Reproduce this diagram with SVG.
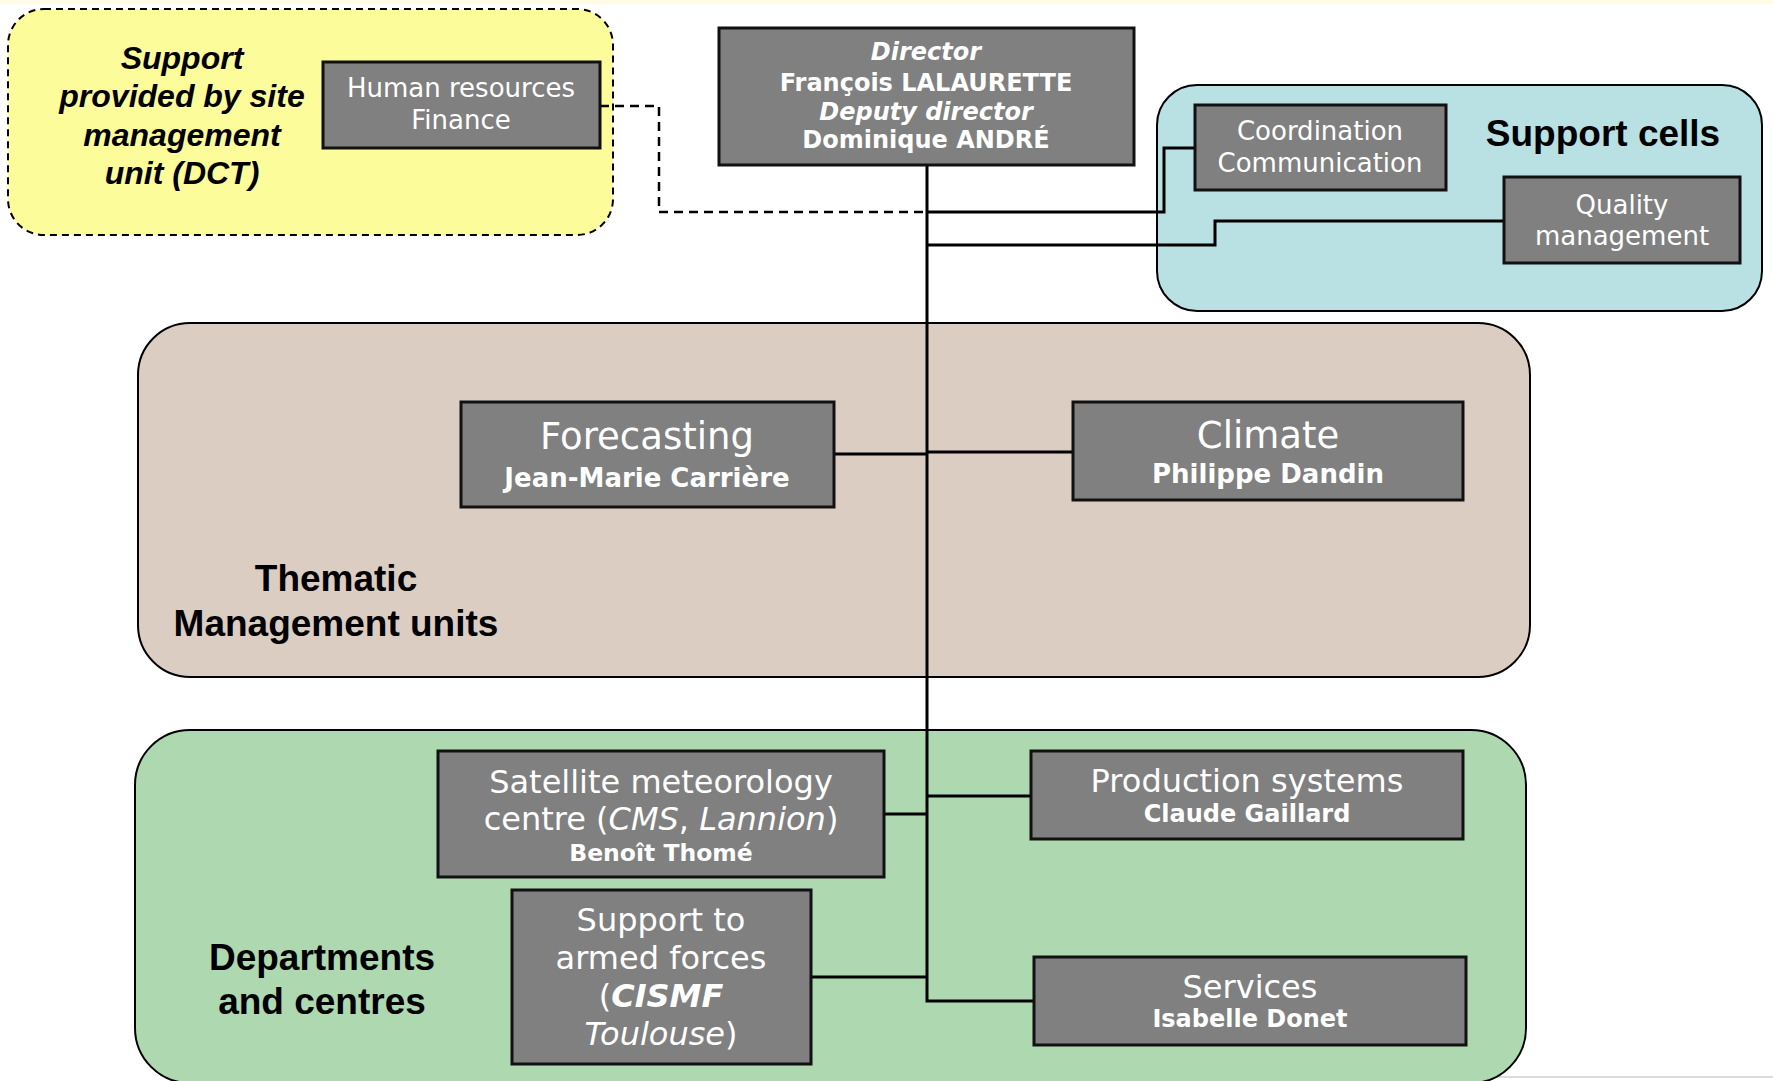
<svg xmlns="http://www.w3.org/2000/svg" width="1773" height="1081" viewBox="0 0 1773 1081">
<style>
.grp{stroke:#000;stroke-width:2}
.box{fill:#808080;stroke:#111;stroke-width:3}
.t{font-family:"DejaVu Sans",Verdana,sans-serif;fill:#fff;text-anchor:middle}
.b{font-weight:bold}
.i{font-style:italic}
.lbl{font-family:"Liberation Sans",Arial,sans-serif;font-weight:bold;fill:#000;text-anchor:middle;font-size:37px}
.c{fill:none;stroke:#000;stroke-width:3}
</style>
<rect x="0" y="0" width="1773" height="1081" fill="#fff"/>
<rect x="0" y="0" width="1773" height="4" fill="#fffbe6"/>
<line x1="1490" y1="1077" x2="1773" y2="1077" stroke="#dcdcdc" stroke-width="2"/>

<g id="group-dct">
<rect x="8" y="9" width="605" height="226" rx="36" ry="36" fill="#fdfc9a" stroke="#000" stroke-width="2" stroke-dasharray="7,5"/>
<text class="lbl i" style="font-size:32px"><tspan x="182" y="69">Support</tspan><tspan x="182" y="107">provided by site</tspan><tspan x="182" y="146">management</tspan><tspan x="182" y="184">unit (DCT)</tspan></text>
</g>
<g id="group-support-cells">
<rect x="1157" y="85" width="605" height="226" rx="40" ry="40" fill="#b9e0e3" class="grp"/>
<text class="lbl" x="1603" y="146">Support cells</text>
</g>
<g id="group-thematic">
<rect x="138" y="323" width="1392" height="354" rx="52" ry="52" fill="#dbcdc2" class="grp"/>
<text class="lbl"><tspan x="336" y="591">Thematic</tspan><tspan x="336" y="636">Management units</tspan></text>
</g>
<g id="group-departments">
<rect x="135" y="730" width="1391" height="353" rx="55" ry="55" fill="#aed8b0" class="grp"/>
<text class="lbl"><tspan x="322" y="970">Departments</tspan><tspan x="322" y="1014">and centres</tspan></text>
</g>

<g id="connectors">
<polyline class="c" points="927,165 927,1001 1034,1001"/>
<polyline class="c" points="600,106 659,106 659,212 927,212" stroke-dasharray="9,6" style="stroke-width:2.5"/>
<polyline class="c" points="927,212 1164,212 1164,148 1195,148"/>
<polyline class="c" points="927,245 1215,245 1215,221 1504,221"/>
<line class="c" x1="834" y1="454" x2="927" y2="454"/>
<line class="c" x1="927" y1="452" x2="1073" y2="452"/>
<line class="c" x1="884" y1="814" x2="927" y2="814"/>
<line class="c" x1="927" y1="796" x2="1031" y2="796"/>
<line class="c" x1="811" y1="977" x2="927" y2="977"/>
</g>

<g id="node-hr">
<rect class="box" x="323" y="62" width="277" height="86"/>
<text class="t" font-size="26"><tspan x="461" y="97">Human resources</tspan><tspan x="461" y="129">Finance</tspan></text>
</g>
<g id="node-director">
<rect class="box" x="719" y="28" width="415" height="137"/>
<text class="t b" font-size="24"><tspan class="i" x="926" y="60">Director</tspan><tspan x="926" y="91">François LALAURETTE</tspan><tspan class="i" x="926" y="120">Deputy director</tspan><tspan x="926" y="148">Dominique ANDRÉ</tspan></text>
</g>
<g id="node-coordination">
<rect class="box" x="1195" y="105" width="251" height="85"/>
<text class="t" font-size="26"><tspan x="1320" y="140">Coordination</tspan><tspan x="1320" y="172">Communication</tspan></text>
</g>
<g id="node-quality">
<rect class="box" x="1504" y="177" width="236" height="86"/>
<text class="t" font-size="26"><tspan x="1622" y="214">Quality</tspan><tspan x="1622" y="245">management</tspan></text>
</g>
<g id="node-forecasting">
<rect class="box" x="461" y="402" width="373" height="105"/>
<text class="t" x="647" y="449" font-size="37">Forecasting</text>
<text class="t b" x="647" y="487" font-size="26">Jean-Marie Carrière</text>
</g>
<g id="node-climate">
<rect class="box" x="1073" y="402" width="390" height="98"/>
<text class="t" x="1268" y="448" font-size="37">Climate</text>
<text class="t b" x="1268" y="483" font-size="26">Philippe Dandin</text>
</g>
<g id="node-satellite">
<rect class="box" x="438" y="751" width="446" height="126"/>
<text class="t" font-size="32"><tspan x="661" y="793">Satellite meteorology</tspan><tspan x="661" y="830">centre (<tspan class="i">CMS</tspan>, <tspan class="i">Lannion</tspan>)</tspan></text>
<text class="t b" x="661" y="861" font-size="23.5">Benoît Thomé</text>
</g>
<g id="node-armed-forces">
<rect class="box" x="512" y="890" width="299" height="174"/>
<text class="t" font-size="32"><tspan x="661" y="931">Support to</tspan><tspan x="661" y="969">armed forces</tspan><tspan x="661" y="1007">(<tspan class="b i">CISMF</tspan></tspan><tspan x="661" y="1045"><tspan class="i">Toulouse</tspan>)</tspan></text>
</g>
<g id="node-production">
<rect class="box" x="1031" y="751" width="432" height="88"/>
<text class="t" x="1247" y="792" font-size="32">Production systems</text>
<text class="t b" x="1247" y="822" font-size="24">Claude Gaillard</text>
</g>
<g id="node-services">
<rect class="box" x="1034" y="957" width="432" height="88"/>
<text class="t" x="1250" y="998" font-size="32">Services</text>
<text class="t b" x="1250" y="1027" font-size="24">Isabelle Donet</text>
</g>
</svg>
